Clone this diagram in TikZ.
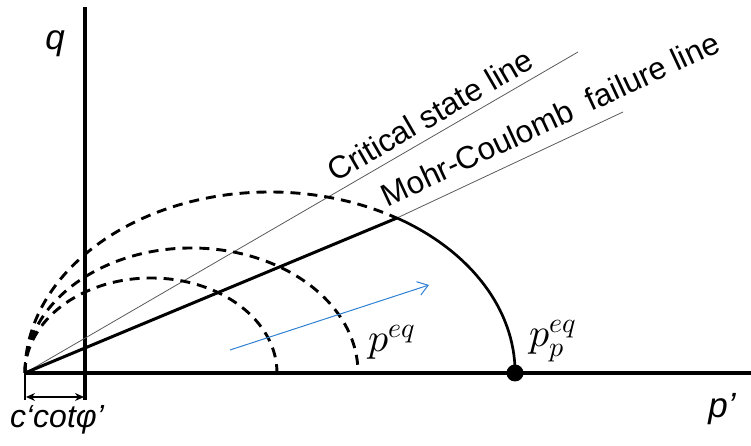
\documentclass[tikz,border=0pt]{standalone}
\usepackage{fontspec}
\usepackage{unicode-math}
\setmainfont{Liberation Sans}
\usetikzlibrary{arrows.meta}
\definecolor{arrowblue}{RGB}{46,128,210}
\definecolor{linegray}{RGB}{90,90,90}
\begin{document}
\begin{tikzpicture}[x=1pt,y=1pt,
  axis/.style={line width=4pt},
  dashell/.style={line width=2.9pt, dash pattern=on 10pt off 7pt},
  solidell/.style={line width=2.7pt},
  thinline/.style={line width=0.8pt, linegray},
  lbl/.style={font=\fontsize{31.5}{34}\selectfont, inner sep=0pt},
  axlbl/.style={font=\fontsize{35}{38}\selectfont\itshape, inner sep=0pt},
  mathlbl/.style={font=\fontsize{40}{44}\selectfont, inner sep=0pt}]
\useasboundingbox (0,0) rectangle (751,446);
% coordinates
\coordinate (O) at (25,73);
\coordinate (qtop) at (85,439);
\coordinate (qbot) at (85,46);
\coordinate (pend) at (751,73);
\coordinate (ttop) at (25,84);
\coordinate (tbot) at (25,46);
\coordinate (dl) at (26,49);
\coordinate (dr) at (84,49);
\coordinate (cslend) at (578,394);
\coordinate (P) at (397,228);
\coordinate (mcend) at (623,334);
\coordinate (pp) at (515,73);
\coordinate (b1) at (230,96);
\coordinate (b2) at (429,161);
% axes
\draw[axis] (qtop) -- (qbot);
\draw[axis] (O) -- (pend);
\draw[line width=2.5pt] (ttop) -- (tbot);
\draw[line width=1.3pt, {Stealth[length=9pt,width=8pt]}-{Stealth[length=9pt,width=8pt]}] (dl) -- (dr);
% lines
\draw[thinline] (O) -- (cslend);
\draw[line width=3pt] (O) -- (P);
\draw[thinline] (P) -- (mcend);
% yield surfaces
\draw[dashell] (O) arc[start angle=180, end angle=58.8, x radius=245, y radius=181];
\draw[solidell] (P) arc[start angle=58.8, end angle=0, x radius=245, y radius=181];
\draw[dashell] (O) arc[start angle=180, end angle=0, x radius=166.5, y radius=125];
\draw[dashell] (O) arc[start angle=180, end angle=0, x radius=126, y radius=95];
\fill (pp) circle (8.5);
% blue arrow
\draw[arrowblue, line width=1pt, -{Straight Barb[length=10pt,width=14pt]}] (b1) -- (b2);
% labels
\node[axlbl] (q) at (55,402) {q};
\node[axlbl] (pl) at (722,37) {p'};
\node[lbl, font=\fontsize{32}{34}\selectfont\itshape] (c) at (57,26) {c‘cotφ’};
\node[mathlbl] (peqlab) at (392,104) {$p^{eq}$};
\node[mathlbl] (pplab) at (553,105) {$p_p^{eq}$};
\node[lbl, rotate=30.1] (csl) at (430,331) {Critical state line};
\node[lbl, rotate=25] (mcl) at (550,327) {Mohr-Coulomb\ \ failure line};
\end{tikzpicture}
\end{document}
